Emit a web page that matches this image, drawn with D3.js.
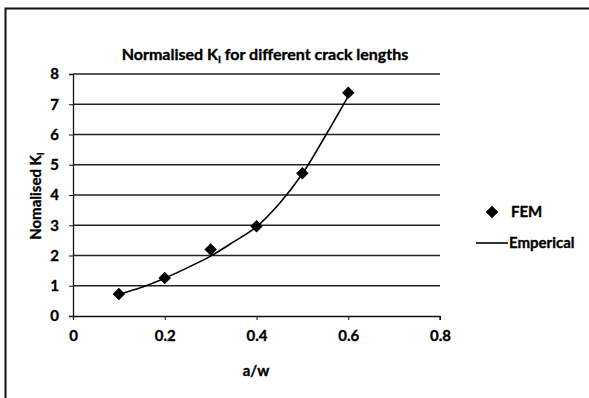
<!DOCTYPE html>
<html>
<head>
<meta charset="utf-8">
<script src="https://cdn.jsdelivr.net/npm/d3@7"></script>
<style>
  body { margin: 0; background: #fff; }
  text { font-family: Lato, "Open Sans", sans-serif; font-weight: bold; fill: #000; stroke: #000; stroke-width: 0.35; }
</style>
</head>
<body>
<div class="chart"></div>
<script>
// FEM points
let femX = [0.1, 0.2, 0.3, 0.4, 0.5, 0.6];
let femY = [0.73, 1.26, 2.2, 2.97, 4.72, 7.38];
let empX = [0.1, 0.15, 0.2, 0.25, 0.3, 0.35, 0.4, 0.45, 0.5, 0.55, 0.6];
let empY = [0.72, 0.95, 1.25, 1.6, 1.98, 2.45, 2.95, 3.72, 4.7, 5.95, 7.27];
let xTicks = [0, 0.2, 0.4, 0.6, 0.8];
let yTicks = [0, 1, 2, 3, 4, 5, 6, 7, 8];

let W = 589, H = 398;
let margin = {top: 74, left: 73};
let w = 367, h = 242;

let svg = d3.select('.chart').append('svg')
  .attr('width', W)
  .attr('height', H);

// outer frame (right/bottom edges fall outside the picture)
svg.append('rect')
  .attr('x', 5.5).attr('y', 8.5)
  .attr('width', 620).attr('height', 420)
  .attr('fill', 'none')
  .attr('stroke', '#111')
  .attr('stroke-width', 2);

let g = svg.append('g')
  .attr('transform', `translate(${margin.left},${margin.top})`);

let x = d3.scaleLinear().domain([0, 0.8]).range([0, w]);
let y = d3.scaleLinear().domain([0, 8]).range([h, 0]);

// gridlines
g.selectAll('.grid')
  .data(yTicks.slice(1))
  .enter().append('line')
    .attr('class', 'grid')
    .attr('x1', 0).attr('x2', w)
    .attr('y1', d => y(d)).attr('y2', d => y(d))
    .attr('stroke', '#222')
    .attr('stroke-width', 1.3);

let xAxis = g.append('g')
  .attr('transform', `translate(0,${h})`)
  .call(d3.axisBottom(x).tickValues(xTicks).tickFormat(d3.format('')).tickSize(4).tickPadding(10));

let yAxis = g.append('g')
  .call(d3.axisLeft(y).tickValues(yTicks).tickSize(4).tickPadding(10));

[xAxis, yAxis].forEach(a => {
  a.select('.domain').attr('stroke', '#111').attr('stroke-width', 1.3);
  a.selectAll('.tick line').attr('stroke', '#111');
  a.selectAll('.tick text')
    .attr('fill', '#000')
    .attr('stroke', '#000')
    .attr('stroke-width', 0.35)
    .style('font-family', 'Lato, sans-serif')
    .style('font-weight', 'bold')
    .style('font-size', '15px');
});
xAxis.select('.domain').attr('d', `M0.5,4V0.5H${w}V4`);

// empirical line
let line = d3.line()
  .x((d, i) => x(empX[i]))
  .y(d => y(d))
  .curve(d3.curveCatmullRom);

g.append('path')
  .datum(empY)
  .attr('d', line)
  .attr('fill', 'none')
  .attr('stroke', '#000')
  .attr('stroke-width', 1.6);

// FEM diamonds
let diamond = d3.symbol().type(d3.symbolSquare).size(78);
g.selectAll('.pt')
  .data(femY)
  .enter().append('path')
    .attr('class', 'pt')
    .attr('d', diamond)
    .attr('transform', (d, i) => `translate(${x(femX[i])},${y(d)}) rotate(45)`)
    .attr('fill', '#000');

// title
let title = svg.append('text')
  .attr('x', 265).attr('y', 60)
  .attr('text-anchor', 'middle')
  .style('font-size', '16px');
title.append('tspan').text('Normalised K');
title.append('tspan').text('I').style('font-size', '10px').attr('dy', 3);
title.append('tspan').text(' for different crack lengths').attr('dy', -3);

// axis titles
svg.append('text')
  .attr('x', 256).attr('y', 376)
  .attr('text-anchor', 'middle')
  .style('font-size', '15px')
  .text('a/w');

let yt = svg.append('text')
  .attr('transform', 'translate(41,196) rotate(-90)')
  .attr('text-anchor', 'middle')
  .style('font-size', '15px');
yt.append('tspan').text('Nomalised K');
yt.append('tspan').text('I').style('font-size', '10px').attr('dy', 3);

// legend
svg.append('path')
  .attr('d', diamond)
  .attr('transform', 'translate(492,212) rotate(45)')
  .attr('fill', '#000');
svg.append('text')
  .attr('x', 511).attr('y', 217)
  .style('font-size', '15px')
  .text('FEM');
svg.append('line')
  .attr('x1', 476).attr('x2', 508)
  .attr('y1', 243).attr('y2', 243)
  .attr('stroke', '#000').attr('stroke-width', 1.6);
svg.append('text')
  .attr('x', 509).attr('y', 248)
  .style('font-size', '15px')
  .text('Emperical');
</script>
</body>
</html>
